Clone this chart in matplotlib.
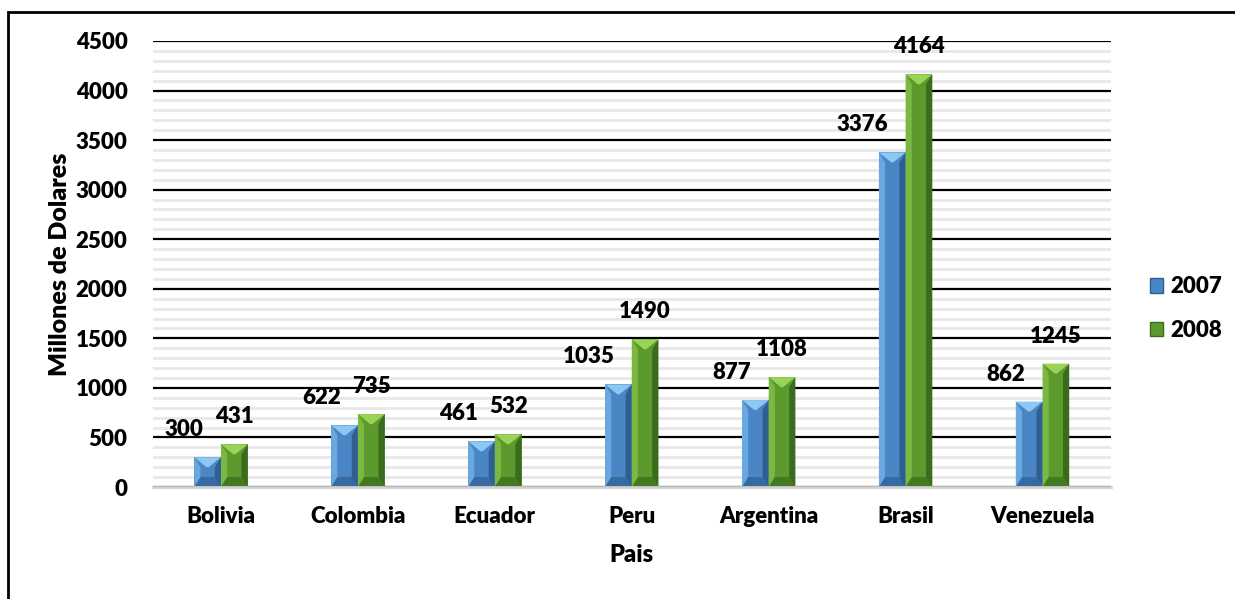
import matplotlib.pyplot as plt
import numpy as np
from matplotlib.patches import Polygon, Rectangle, Patch
from matplotlib.ticker import MultipleLocator

plt.rcParams['font.family'] = ['Lato', 'DejaVu Sans']
plt.rcParams['font.weight'] = 'heavy'

# ======== datos ========
paises = ["Bolivia", "Colombia", "Ecuador", "Peru", "Argentina", "Brasil", "Venezuela"]
v2007 = [300, 622, 461, 1035, 877, 3376, 862]
v2008 = [431, 735, 532, 1490, 1108, 4164, 1245]
series_labels = ["2007", "2008"]

# colores (base, claro, oscuro, tapa)
azul = ("#4a86c6", "#6aa8e0", "#2f5f91", "#8cc8f2")
verde = ("#5c9a2e", "#7bb842", "#3b6b1c", "#9ad456")
PESO = "heavy"

fig = plt.figure(figsize=(12.35, 5.99), dpi=100)
ax = fig.add_axes([152.5 / 1235, 1 - 487 / 599, 958.5 / 1235, 446 / 599])

x = np.arange(len(paises))
w = 0.195
bx = 0.045  # ancho del bisel (datos)
by = 100    # alto del bisel (datos)


def bar_bisel(xc, val, cols):
    base, claro, oscuro, tapa = cols
    l, r = xc - w / 2, xc + w / 2
    b = min(by, val / 2)
    ax.add_patch(Rectangle((l, 0), w, val, facecolor=base, edgecolor="none", zorder=3))
    # lado izquierdo claro
    ax.add_patch(Polygon([(l, 0), (l + bx, b), (l + bx, val - b), (l, val)],
                         closed=True, facecolor=claro, edgecolor="none", zorder=4))
    # lado derecho oscuro
    ax.add_patch(Polygon([(r, 0), (r - bx, b), (r - bx, val - b), (r, val)],
                         closed=True, facecolor=oscuro, edgecolor="none", zorder=4))
    # tapa superior (triangulo claro)
    ax.add_patch(Polygon([(l, val), (r, val), (xc + 0.008, val - b), (xc - 0.008, val - b)],
                         closed=True, facecolor=tapa, edgecolor="none", zorder=4))
    # base inferior
    ax.add_patch(Polygon([(l, 0), (r, 0), (r - bx, b), (l + bx, b)],
                         closed=True, facecolor=oscuro, edgecolor="none", zorder=4, alpha=0.7))


for i in range(len(paises)):
    bar_bisel(x[i] - w / 2, v2007[i], azul)
    bar_bisel(x[i] + w / 2, v2008[i], verde)
    ax.annotate(str(v2007[i]), (x[i] - w / 2, v2007[i]), xytext=(-4, 17),
                textcoords="offset pixels", ha="right", va="bottom",
                fontsize=16, fontweight=PESO, zorder=6)
    ax.annotate(str(v2008[i]), (x[i] + w / 2, v2008[i]), xytext=(0, 17),
                textcoords="offset pixels", ha="center", va="bottom",
                fontsize=16, fontweight=PESO, zorder=6)

ax.set_xlim(-0.5, len(paises) - 0.5)
ax.set_ylim(0, 4500)
ax.yaxis.set_major_locator(MultipleLocator(500))
ax.yaxis.set_minor_locator(MultipleLocator(100))
ax.grid(axis="y", which="major", color="black", linewidth=1.6, zorder=1)
ax.grid(axis="y", which="minor", color="#e8e8e8", linewidth=2, zorder=0)
ax.set_axisbelow(True)

ax.set_xticks(x)
ax.set_xticklabels(paises, fontsize=16, fontweight=PESO)
ax.set_yticks(ax.get_yticks())
ax.set_yticklabels([f"{int(t)}" for t in ax.get_yticks()], fontsize=16, fontweight=PESO)
ax.set_ylim(0, 4500)
ax.tick_params(axis="both", which="both", length=0)
ax.tick_params(axis="x", pad=14)
ax.tick_params(axis="y", pad=18)
for s in ["top", "right", "left"]:
    ax.spines[s].set_visible(False)
ax.spines["bottom"].set_color("#d0d0d0")
ax.spines["bottom"].set_linewidth(2)
ax.spines["bottom"].set_zorder(5)

ax.set_xlabel("Pais", fontsize=17, fontweight=PESO, labelpad=12)
ax.set_ylabel("Millones de Dolares", fontsize=18, fontweight=PESO, labelpad=3)

leg_handles = [Patch(facecolor=azul[0], edgecolor=azul[2], label=series_labels[0]),
               Patch(facecolor=verde[0], edgecolor=verde[2], label=series_labels[1])]
fig.legend(handles=leg_handles, loc="center left", bbox_to_anchor=(0.915, 0.485),
           frameon=False, prop={"size": 16, "weight": PESO},
           handlelength=0.6, handleheight=0.6, handletextpad=0.3, labelspacing=1.0)

# marco del grafico
fig.add_artist(Rectangle((8 / 1235, -0.1), 1.2, 1.1 - 12 / 599, transform=fig.transFigure,
                         facecolor="none", edgecolor="black", linewidth=2))

fig.savefig("out.png", dpi=100)
